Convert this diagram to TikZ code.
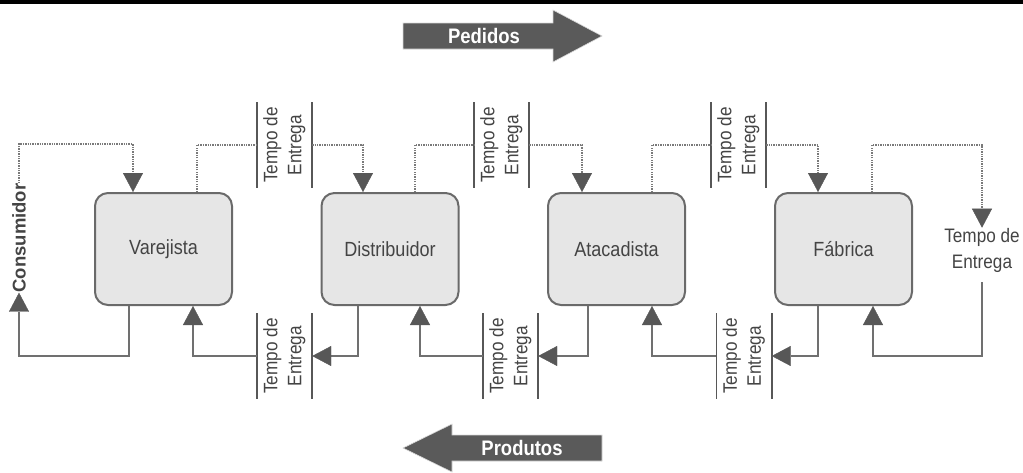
\documentclass[tikz,border=0pt]{standalone}
\usepackage{fontspec}
\setmainfont{Liberation Sans}
\newfontfamily\narrowf[FakeStretch=0.88]{Liberation Sans}
\usetikzlibrary{arrows.meta}
\definecolor{boxline}{HTML}{6A6A6A}
\definecolor{boxfill}{HTML}{E6E6E6}
\definecolor{txt}{HTML}{444444}
\definecolor{linec}{HTML}{707070}
\definecolor{dotc}{HTML}{7A7A7A}
\definecolor{arrc}{HTML}{575757}
\definecolor{bigc}{HTML}{5A5A5A}
\begin{document}
\begin{tikzpicture}[x=1pt,y=-1pt,
  box/.style={draw=boxline, fill=boxfill, line width=2pt, rounded corners=13pt,
    minimum width=137pt, minimum height=112pt, inner sep=0pt,
    font=\narrowf\fontsize{20.5}{24}\selectfont, text=txt},
  lab/.style={minimum width=55pt, minimum height=85pt, inner sep=0pt,
    font=\narrowf\fontsize{19.5}{24}\selectfont, text=txt},
  bar/.style={draw=arrc, line width=1.6pt},
  dot/.style={draw=dotc, line width=1.6pt, dash pattern=on 1.3pt off 1.1pt},
  sol/.style={draw=linec, line width=2pt},
  arr/.style={-{Triangle[width=20pt,length=19pt,color=arrc,line width=0.4pt]}},
  big/.style={fill=bigc, draw=white!85!black, line width=0.6pt},
  bigtxt/.style={text=white, font=\narrowf\bfseries\fontsize{21}{24}\selectfont, inner sep=0pt}
]
\useasboundingbox (0,0) rectangle (1023,472);
\fill[black] (0,0) rectangle (1023,4);

% big arrows
\path[big] (403,23) -- (553,23) -- (553,10) -- (602,36) -- (553,62) -- (553,49) -- (403,49) -- cycle;
\node[bigtxt] (ped) at (484,36) {Pedidos};
\path[big] (602,435) -- (452,435) -- (452,424) -- (403,448) -- (452,472) -- (452,461) -- (602,461) -- cycle;
\node[bigtxt] (prod) at (522,448) {Produtos};

% boxes
\node[box] (V) at (163.5,249) {Varejista};
\node[box] (D) at (390,249) {Distribuidor};
\node[box] (A) at (616.5,249) {Atacadista};
\node[box] (F) at (843.5,249) {Fábrica};

% consumer
\node[inner sep=0pt, text=txt] (C) at (19,238)
  {\rotatebox{90}{\bfseries\fontsize{18.5}{22}\selectfont Consumidor}};

% lead time labels
\foreach \n/\x/\y in {L1/284.5/145, L2/501.5/145, L3/738.5/145, B1/284.5/356, B2/510.5/356, B3/744/356}{
  \node[lab] (\n) at (\x,\y) {\rotatebox{90}{\begin{tabular}{@{}c@{}}Tempo de\\Entrega\end{tabular}}};
  \draw[bar] (\n.north west) -- (\n.south west) (\n.north east) -- (\n.south east);
}
\node[inner sep=0pt, align=center, text=txt, font=\narrowf\fontsize{19.5}{26}\selectfont] (T) at (982,250) {Tempo de\\Entrega};

% orders (dotted)
\draw[dot,arr] (C.north) |- ([xshift=-30.5pt,yshift=48pt]V.north) -- ([xshift=-30.5pt]V.north);
\draw[dot] ([xshift=33.5pt]V.north) |- (L1.west);
\draw[dot,arr] (L1.east) -| ([xshift=-27pt]D.north);
\draw[dot] ([xshift=25pt]D.north) |- (L2.west);
\draw[dot,arr] (L2.east) -| ([xshift=-34.5pt]A.north);
\draw[dot] ([xshift=35.5pt]A.north) |- (L3.west);
\draw[dot,arr] (L3.east) -| ([xshift=-25.5pt]F.north);
\draw[dot,arr] ([xshift=28.5pt]F.north) |- (T.north |- L3.west) -- (T.north);

% products (solid)
\draw[sol,arr] ([xshift=-34.5pt]V.south) |- (C.south |- B1.west) -- (C.south);
\draw[sol,arr] ([xshift=-32pt]D.south) |- (B1.east);
\draw[sol,arr] (B1.west) -| ([xshift=29.5pt]V.south);
\draw[sol,arr] ([xshift=-28.5pt]A.south) |- (B2.east);
\draw[sol,arr] (B2.west) -| ([xshift=30pt]D.south);
\draw[sol,arr] ([xshift=-25.5pt]F.south) |- (B3.east);
\draw[sol,arr] (B3.west) -| ([xshift=35.5pt]A.south);
\draw[sol,arr] ([yshift=-10pt]T.south) |- (T.south |- B3.east) -| ([xshift=29.5pt]F.south);
\end{tikzpicture}
\end{document}
